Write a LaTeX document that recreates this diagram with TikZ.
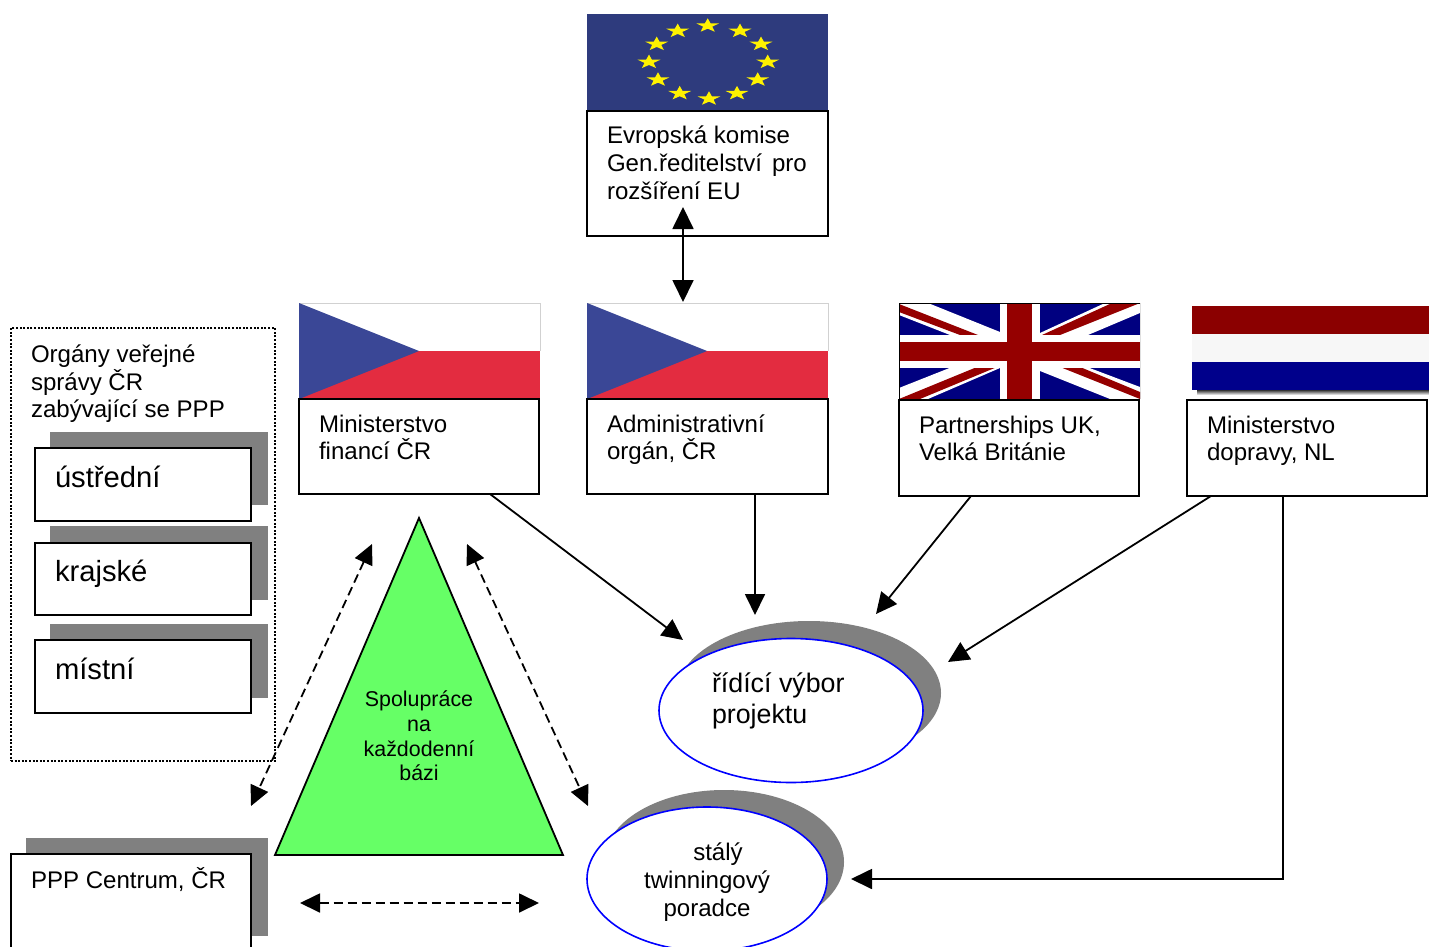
\documentclass[tikz,border=0pt]{standalone}
\usepackage{fontspec}
\setmainfont{Liberation Sans}
\usetikzlibrary{arrows.meta,shapes.geometric}
\definecolor{eublue}{HTML}{2E3B7D}
\definecolor{czblue}{HTML}{3A4796}
\definecolor{czred}{HTML}{E32C40}
\definecolor{ukblue}{HTML}{000080}
\definecolor{ukred}{HTML}{950000}
\definecolor{nlred}{HTML}{8B0000}
\definecolor{nlblue}{HTML}{00008B}
\definecolor{shade}{HTML}{808080}
\definecolor{trigreen}{HTML}{66FF66}
\tikzset{
  boxn/.style={draw=black,fill=white,line width=1.8pt,anchor=north west,inner sep=0pt,outer sep=0pt},
  shadowbox/.style={fill=shade,draw=none,anchor=north west,inner sep=0pt,outer sep=0pt},
  lab/.style={anchor=north west,inner sep=0pt,outer sep=0pt,align=left,font=\fontsize{24.05pt}{28pt}\selectfont,execute at begin node={\rule{0pt}{20pt}}},
  labtwo/.style={lab,font=\fontsize{24.05pt}{27pt}\selectfont},
  laborg/.style={lab,font=\fontsize{24.05pt}{27.5pt}\selectfont},
  labbig/.style={anchor=north west,inner sep=0pt,outer sep=0pt,align=left,font=\fontsize{29.2pt}{31pt}\selectfont,execute at begin node={\rule{0pt}{20pt}}},
  labell/.style={anchor=north west,inner sep=0pt,outer sep=0pt,align=left,font=\fontsize{26.8pt}{31pt}\selectfont,execute at begin node={\rule{0pt}{20pt}}},
  labc/.style={anchor=north,inner sep=0pt,outer sep=0pt,align=center,font=\fontsize{24.05pt}{28pt}\selectfont,execute at begin node={\rule{0pt}{20pt}}},
  labtri/.style={anchor=north,inner sep=0pt,outer sep=0pt,align=center,font=\fontsize{21.4pt}{24.7pt}\selectfont,execute at begin node={\rule{0pt}{20pt}}},
  ell/.style={ellipse,draw=blue,fill=white,line width=1.6pt,inner sep=0pt,outer sep=0pt,minimum width=264pt,minimum height=144pt},
  ellsh/.style={ellipse,fill=shade,draw=none,inner sep=0pt,outer sep=0pt,minimum width=264pt,minimum height=144pt},
  arr/.style={-{Triangle[length=21pt,width=20pt]},line width=1.8pt},
  darr/.style={{Triangle[length=22pt,width=21pt]}-{Triangle[length=22pt,width=21pt]},line width=1.8pt},
  dasharr/.style={{Triangle[length=20pt,width=19pt]}-{Triangle[length=20pt,width=19pt]},line width=1.8pt,dash pattern=on 9pt off 5pt},
}
\begin{document}
\begin{tikzpicture}[x=1pt,y=-1pt]
\useasboundingbox (0,0) rectangle (1429,947);
\clip (0,0) rectangle (1429,947);
\fill[white] (0,0) rectangle (1429,947);

% EU flag
\fill[eublue] (587,14) rectangle (828,111);
\foreach \sx/\sy in {707.7/25.7,677.7/31,740/31,656.7/44,761/44,649/62,767.7/62,658/79.7,757.7/79.7,679.7/93.3,737/93.3,709/98.7}{
  \fill[yellow,shift={(\sx,\sy)},yscale=.62]
    (-90:12) -- (-54:4.8) -- (-18:12) -- (18:4.8) -- (54:12) -- (90:4.8) -- (126:12) -- (162:4.8) -- (198:12) -- (234:4.8) -- cycle;
}
\node[boxn,minimum width=241pt,minimum height=125pt] (eu) at (587,111) {};
\node[lab] (eut) at (607,126) {Evropská komise\\Gen.ředitelství\hspace{10pt}pro\\rozšíření EU};

% Czech flags
\foreach \fx in {299,587}{
  \fill[white] (\fx,303) rectangle ++(241,48);
  \draw[black!18,line width=.6pt] (\fx,303) -- ++(241,0) -- ++(0,48);
  \fill[czred] (\fx,351) rectangle ++(241,48);
  \fill[czblue] (\fx,303) -- ++(120,48) -- ++(-120,48) -- cycle;
}
\node[boxn,minimum width=240pt,minimum height=95pt] (mf) at (299,399) {};
\node[labtwo] (mft) at (319,415) {Ministerstvo\\financí ČR};
\node[boxn,minimum width=241pt,minimum height=95pt] (ao) at (587,399) {};
\node[labtwo] (aot) at (607,415) {Administrativní\\orgán, ČR};

% UK flag
\begin{scope}
\clip (899,303) rectangle (1140,399);
\fill[ukblue] (899,303) rectangle (1140,399);
% white diagonals
\fill[white] (899,303) -- (928,303) -- (1000,332) -- (1000,335) -- (950,335) -- (899,315) -- cycle;
\fill[white] (1105,303) -- (1140,303) -- (1140,313) -- (1088,335) -- (1040,335) -- (1040,333) -- cycle;
\fill[white] (899,388) -- (952,367) -- (1000,367) -- (1000,368) -- (928,399) -- (899,399) -- cycle;
\fill[white] (1087,367) -- (1040,367) -- (1040,371) -- (1110,399) -- (1140,399) -- (1140,387) -- cycle;
% red pinwheel
\fill[ukred] (899,304) -- (978,335) -- (960,335) -- (899,312) -- cycle;
\fill[ukred] (1140,303) -- (1112,303) -- (1042,335) -- (1060,335) -- cycle;
\fill[ukred] (977,367) -- (997,367) -- (920,399) -- (899,399) -- cycle;
\fill[ukred] (1060,367) -- (1080,367) -- (1140,392) -- (1140,399) -- cycle;
% cross
\fill[white] (999.5,303) rectangle (1039.5,399);
\fill[white] (899,335) rectangle (1140,368);
\fill[ukred] (1007,303) rectangle (1032,399);
\fill[ukred] (899,342) rectangle (1140,361);
\draw[black,line width=1pt] (899,399) -- (899,303) -- (1140,303) -- (1140,399);
\end{scope}
\node[boxn,minimum width=240pt,minimum height=96pt] (uk) at (899,400) {};
\node[labtwo] (ukt) at (919,416) {Partnerships UK,\\Velká Británie};

% NL flag
\shade[top color=black!80,bottom color=white] (1197,390) rectangle (1429,395);
\fill[nlred] (1192,305.5) rectangle (1429,334);
\fill[white!97!black] (1192,334) rectangle (1429,362);
\fill[nlblue] (1192,362) rectangle (1429,390);
\node[boxn,minimum width=240pt,minimum height=96pt] (nl) at (1187,400) {};
\node[labtwo] (nlt) at (1207,416) {Ministerstvo\\dopravy, NL};

% Organs box
\node[draw=black,line width=1.4pt,dash pattern=on 2pt off 1.6pt,anchor=north west,inner sep=0pt,outer sep=0pt,minimum width=264pt,minimum height=433pt] (org) at (11,328) {};
\node[laborg] (orgt) at (31,345) {Orgány veřejné\\správy ČR\\zabývající se PPP};
\node[shadowbox,minimum width=218pt,minimum height=73pt] (s1) at (50,432) {};
\node[boxn,minimum width=216pt,minimum height=73pt] (b1) at (35,448) {};
\node[labbig] (t1) at (55,466) {ústřední};
\node[shadowbox,minimum width=218pt,minimum height=74pt] (s2) at (50,526) {};
\node[boxn,minimum width=216pt,minimum height=72pt] (b2) at (35,543) {};
\node[labbig] (t2) at (55,560) {krajské};
\node[shadowbox,minimum width=218pt,minimum height=74pt] (s3) at (50,624) {};
\node[boxn,minimum width=216pt,minimum height=73pt] (b3) at (35,640) {};
\node[labbig] (t3) at (55,658) {místní};

% PPP
\node[shadowbox,minimum width=242pt,minimum height=98pt] (s4) at (26,838) {};
\node[boxn,minimum width=240pt,minimum height=120pt] (ppp) at (11,854) {};
\node[lab] (pppt) at (31,867) {PPP Centrum, ČR};

% Triangle
\draw[fill=trigreen,draw=black,line width=1.8pt,line join=miter] (419,518) -- (563,855) -- (275,855) -- cycle;
\node[labtri] (trit) at (419,691) {Spolupráce\\na\\každodenní\\bázi};

% Ellipses
\node[ellsh] (e1s) at (809,693) {};
\node[ell] (e1) at (791,710.5) {};
\node[labell] (e1t) at (712,673) {řídící výbor\\projektu};
\node[ellsh,minimum width=240pt] (e2s) at (724,862) {};
\node[ell,minimum width=240pt] (e2) at (707,879) {};
\node[labc] (e2t) at (707,843) {\hspace*{22pt}stálý\\twinningový\\poradce};

% connector end points
\coordinate (a1) at (683,207);
\coordinate (a2) at (683,302);
\coordinate (e1a) at (683,640);
\coordinate (e1c) at (876,614);
\coordinate (e1d) at (948,662);
\coordinate (e2a) at (851,879);
\coordinate (d1a) at (372,544);
\coordinate (d1b) at (251,806);
\coordinate (d2a) at (467,544);
\coordinate (d2b) at (588,806);
\coordinate (d3a) at (300,903);
\coordinate (d3b) at (539,903);
\coordinate (nlstart) at (1283,496);

\draw[darr] (a1) -- (a2);
\draw[arr] ([xshift=71pt]mf.south) -- (e1a);
\draw[arr] ([xshift=47.5pt]ao.south) -- ++(0,121);
\draw[arr] ([xshift=-48pt]uk.south) -- (e1c);
\draw[arr] ([xshift=-96pt]nl.south) -- (e1d);
\draw[arr] (nlstart) |- (e2a);
\draw[dasharr] (d1a) -- (d1b);
\draw[dasharr] (d2a) -- (d2b);
\draw[dasharr] (d3a) -- (d3b);
\end{tikzpicture}
\end{document}
